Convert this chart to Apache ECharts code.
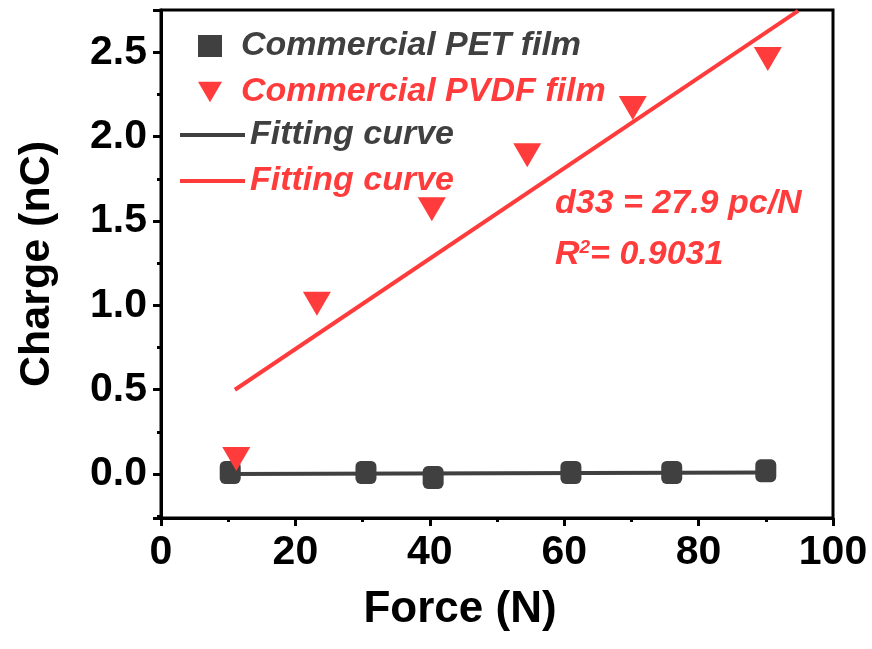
<!DOCTYPE html>
<html><head><meta charset="utf-8">
<script src="https://cdn.jsdelivr.net/npm/echarts@6/dist/echarts.min.js"></script>
<style>html,body{margin:0;padding:0;background:#fff}#c{width:872px;height:649px}</style>
</head><body><div id="c"></div>
<script>
const petForce  = [10.3, 30.5, 40.5, 61.0, 76.0, 90.0];
const petCharge = [0.01, 0.01, -0.02, 0.01, 0.01, 0.02];
const pvdfForce  = [11.2, 23.2, 40.3, 54.5, 70.2, 90.3];
const pvdfCharge = [0.09, 1.01, 1.57, 1.89, 2.17, 2.46];
const petFitX = [10, 90];
const petFitY = [0.00, 0.01];
const pvdfFitX = [11, 94.8];
const pvdfFitY = [0.50, 2.745];
const xTicks = [0, 20, 40, 60, 80, 100];
const yTicks = [0.0, 0.5, 1.0, 1.5, 2.0, 2.5];

const GRAY = '#404040', RED = '#ff3b3b';
const FONT = 'Liberation Sans, Arial, sans-serif';
const zip = (a, b) => a.map((v, i) => [v, b[i]]);
const tri = 'path://M0,0 L10,0 L5,8.6 Z';

const chart = echarts.init(document.getElementById('c'), null, {renderer: 'canvas'});
chart.setOption({
  animation: false,
  grid: {left: 161, right: 39, top: 10, bottom: 131, show: true, borderColor: '#000', borderWidth: 3, backgroundColor: 'transparent'},
  xAxis: {
    type: 'value', min: 0, max: 100, interval: 20,
    name: 'Force (N)', nameLocation: 'middle', nameGap: 70,
    nameTextStyle: {fontFamily: FONT, fontWeight: 'bold', fontSize: 44, color: '#000', padding: [0, 74, 0, 0]},
    axisLine: {show: true, onZero: false, lineStyle: {color: '#000', width: 3}},
    axisTick: {show: true, inside: false, length: 8, lineStyle: {width: 3, color: '#000'}},
    minorTick: {show: true, splitNumber: 2, length: 4, lineStyle: {width: 3, color: '#000'}},
    splitLine: {show: false},
    axisLabel: {fontFamily: FONT, fontWeight: 'bold', fontSize: 41, color: '#000', margin: 14,
      formatter: v => xTicks.includes(v) ? String(v) : ''}
  },
  yAxis: {
    type: 'value', min: -0.26, max: 2.75, splitNumber: 6,
    name: 'Charge (nC)', nameLocation: 'middle', nameGap: 102,
    nameTextStyle: {fontFamily: FONT, fontWeight: 'bold', fontSize: 43, color: '#000'},
    axisLine: {show: true, onZero: false, lineStyle: {color: '#000', width: 3}},
    axisTick: {show: true, inside: false, length: 8, lineStyle: {width: 3, color: '#000'}},
    minorTick: {show: true, splitNumber: 2, length: 4, lineStyle: {width: 3, color: '#000'}},
    splitLine: {show: false},
    axisLabel: {fontFamily: FONT, fontWeight: 'bold', fontSize: 41, color: '#000', margin: 14,
      showMinLabel: false, showMaxLabel: false,
      formatter: v => { const t = yTicks.find(k => Math.abs(k - v) < 1e-6); return t === undefined ? '' : t.toFixed(1); }}
  },
  legend: [
    {orient: 'vertical', left: 193, top: 22, itemWidth: 24, itemHeight: 22, itemGap: 8,
     textStyle: {fontFamily: FONT, fontStyle: 'italic', fontWeight: 'bold', fontSize: 34, lineHeight: 38, padding: [0, 0, 0, 14]},
     data: [{name: 'Commercial PET film', icon: 'rect', textStyle: {color: GRAY}},
            {name: 'Commercial PVDF film', icon: tri, textStyle: {color: RED}}]},
    {orient: 'vertical', left: 175, top: 111, itemWidth: 65, itemHeight: 4, itemGap: 8,
     formatter: () => 'Fitting curve',
     textStyle: {fontFamily: FONT, fontStyle: 'italic', fontWeight: 'bold', fontSize: 34, lineHeight: 38},
     data: [{name: 'fitPET', icon: 'rect', textStyle: {color: GRAY}},
            {name: 'fitPVDF', icon: 'rect', textStyle: {color: RED}}]}
  ],
  graphic: [
    {type: 'text', left: 555, top: 187, style: {text: 'd33 = 27.9 pc/N', fill: RED, font: 'italic bold 34px ' + FONT}},
    {type: 'text', left: 555, top: 238, style: {text: 'R{s|2}= 0.9031', fill: RED, font: 'italic bold 34px ' + FONT,
      rich: {s: {fontSize: 19, fontStyle: 'italic', fontWeight: 'bold', fontFamily: FONT, fill: RED, verticalAlign: 'top', padding: [0, 0, 14, 0]}}}}
  ],
  series: [
    {name: 'fitPET', type: 'line', symbol: 'none', data: zip(petFitX, petFitY), lineStyle: {color: GRAY, width: 4}, itemStyle: {color: GRAY}, z: 2},
    {name: 'fitPVDF', type: 'line', symbol: 'none', data: zip(pvdfFitX, pvdfFitY), lineStyle: {color: RED, width: 4}, itemStyle: {color: RED}, clip: true, z: 2},
    {name: 'Commercial PET film', type: 'scatter', symbol: 'roundRect', symbolSize: [21, 23], data: zip(petForce, petCharge), itemStyle: {color: GRAY, opacity: 1}, z: 3},
    {name: 'Commercial PVDF film', type: 'scatter', symbol: tri, symbolSize: [28, 24], data: zip(pvdfForce, pvdfCharge), itemStyle: {color: RED, opacity: 1}, z: 4}
  ]
});
</script></body></html>
